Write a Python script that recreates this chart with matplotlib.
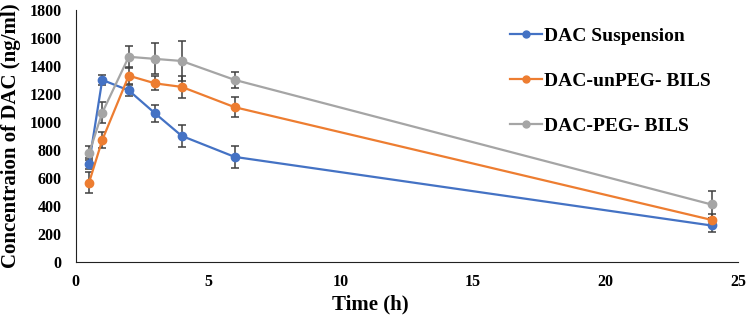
import matplotlib
matplotlib.use('Agg')
import matplotlib.pyplot as plt

time_h = [0.5, 1, 2, 3, 4, 6, 24]
labels = ['DAC Suspension', 'DAC-unPEG- BILS', 'DAC-PEG- BILS']
suspension = [700, 1300, 1225, 1060, 900, 750, 260]
unpeg = [565, 870, 1330, 1275, 1250, 1105, 300]
peg = [775, 1065, 1465, 1450, 1435, 1300, 410]
suspension_err = [40, 35, 40, 60, 80, 80, 50]
unpeg_err = [75, 55, 60, 50, 80, 70, 40]
peg_err = [50, 75, 80, 110, 145, 55, 95]
colors = ['#4472C4', '#ED7D31', '#A5A5A5']

plt.rcParams['font.family'] = ['Liberation Serif', 'DejaVu Serif']
plt.rcParams['font.weight'] = 'bold'

fig = plt.figure(figsize=(7.5, 3.19), dpi=100)
ax = fig.add_axes([0.101, 0.179, 0.883, 0.79])

for vals, errs, lab, col in zip([suspension, unpeg, peg], [suspension_err, unpeg_err, peg_err], labels, colors):
    ax.errorbar(time_h, vals, yerr=errs, color=col, marker='o', markersize=6, linewidth=1.6,
                ecolor='#404040', elinewidth=1.1, capsize=3, capthick=1.1, label=lab)

ax.set_xlim(0, 25)
ax.set_ylim(0, 1800)
ax.set_xticks([0, 5, 10, 15, 20, 25])
ax.set_yticks(range(0, 1801, 200))
ax.tick_params(axis='x', length=0, labelsize=11.5, pad=9)
ax.tick_params(axis='y', length=0, labelsize=11.5, pad=10)
for t in ax.get_xticklabels() + ax.get_yticklabels():
    t.set_fontweight('bold')
ax.spines['top'].set_visible(False)
ax.spines['right'].set_visible(False)
ax.spines['left'].set_color('#222222')
ax.spines['bottom'].set_color('#222222')
ax.set_xlabel('Time (h)', fontsize=15, fontweight='bold')
ax.xaxis.set_label_coords(0.445, -0.13)
ax.set_ylabel('Concentraion of DAC (ng/ml)', fontsize=15, fontweight='bold', labelpad=6)

handles = [plt.Line2D([], [], color=c, marker='o', markersize=5, linewidth=1.6) for c in colors]
ax.legend(handles, labels, loc='upper left', bbox_to_anchor=(0.63, 1.0), frameon=False,
          prop={'size': 14, 'weight': 'bold'}, handlelength=1.6, handletextpad=0.15, labelspacing=1.4)

plt.savefig('out.png')
